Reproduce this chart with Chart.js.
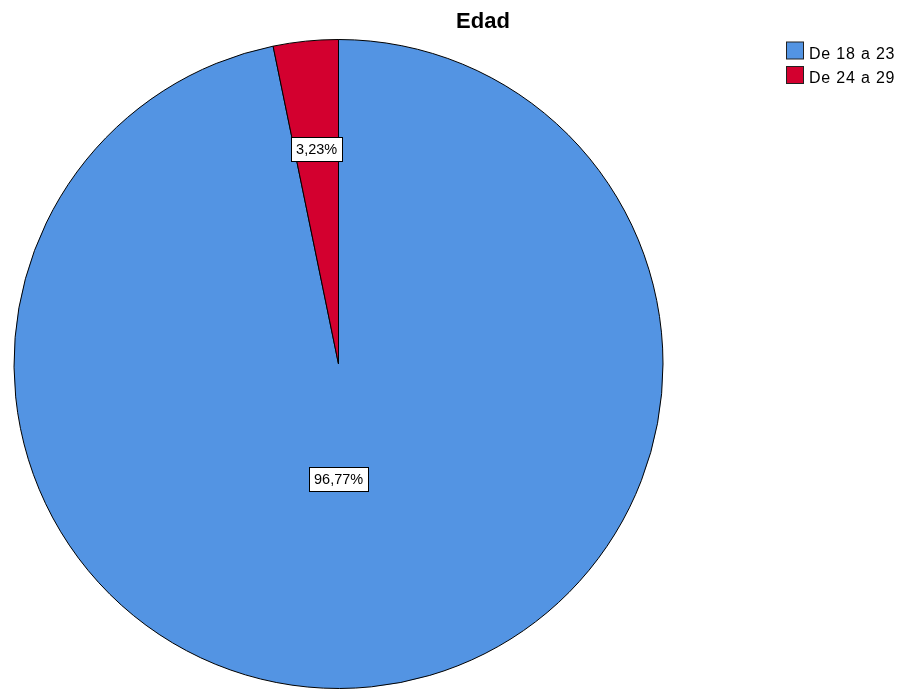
<!DOCTYPE html>
<html>
<head>
<meta charset="utf-8">
<script src="https://cdn.jsdelivr.net/npm/chart.js@4"></script>
<style>
  html, body { margin: 0; padding: 0; background: #fff; }
  #wrap { width: 905px; height: 691px; }
</style>
</head>
<body>
<div id="wrap"><canvas id="pie" width="905" height="691"></canvas></div>
<script>
// datos del gráfico
const categories = ['De 18 a 23', 'De 24 a 29'];
const percents = [96.77, 3.23];
const percentLabels = ['96,77%', '3,23%'];
const chartTitle = 'Edad';

const sliceColors = ['#5394E3', '#D3002F'];
// posición de la etiqueta: fracción del radio y fracción del ángulo del sector
const labelRadius = [0.355, 0.665];
const labelAngleFrac = [0.5165, 0.5];

// título
const titlePlugin = {
  id: 'titleSpss',
  afterDraw(chart) {
    const ctx = chart.ctx;
    ctx.save();
    ctx.font = 'bold 22px "Liberation Sans", Arial, sans-serif';
    ctx.fillStyle = '#000';
    ctx.textAlign = 'center';
    ctx.textBaseline = 'alphabetic';
    ctx.fillText(chartTitle, 483, 28);
    ctx.restore();
  }
};

// leyenda arriba a la derecha
const legendPlugin = {
  id: 'legendSpss',
  afterDraw(chart) {
    const ctx = chart.ctx;
    const ds = chart.data.datasets[0];
    ctx.save();
    ctx.font = '16px "Liberation Sans", Arial, sans-serif';
    ctx.letterSpacing = '0.8px';
    ctx.textBaseline = 'alphabetic';
    chart.data.labels.forEach((lab, i) => {
      const y = 41.5 + i * 24.5;
      ctx.fillStyle = ds.backgroundColor[i];
      ctx.fillRect(786.5, y + 0.5, 17, 17);
      ctx.strokeStyle = '#222';
      ctx.lineWidth = 1;
      ctx.strokeRect(786.5, y + 0.5, 17, 17);
      ctx.fillStyle = '#000';
      ctx.fillText(lab, 809, y + 17);
    });
    ctx.restore();
  }
};

// etiquetas de porcentaje en cajas blancas
const boxLabels = {
  id: 'boxLabels',
  afterDatasetsDraw(chart) {
    const ctx = chart.ctx;
    const meta = chart.getDatasetMeta(0);
    ctx.save();
    ctx.font = '14.5px "Liberation Sans", Arial, sans-serif';
    ctx.textAlign = 'center';
    ctx.textBaseline = 'middle';
    meta.data.forEach((arc, i) => {
      const p = arc.getProps(['x', 'y', 'startAngle', 'endAngle', 'outerRadius'], true);
      const ang = p.startAngle + (p.endAngle - p.startAngle) * labelAngleFrac[i];
      const r = p.outerRadius * labelRadius[i];
      const cx = p.x + Math.cos(ang) * r;
      const cy = p.y + Math.sin(ang) * r;
      const txt = percentLabels[i];
      const w = Math.round(ctx.measureText(txt).width + 10);
      const h = 24;
      const bx = Math.round(cx - w / 2) + 0.5;
      const by = Math.round(cy - h / 2) + 0.5;
      ctx.fillStyle = '#fff';
      ctx.fillRect(bx, by, w, h);
      ctx.strokeStyle = '#000';
      ctx.lineWidth = 1;
      ctx.strokeRect(bx, by, w, h);
      ctx.fillStyle = '#000';
      ctx.fillText(txt, cx, cy + 1);
    });
    ctx.restore();
  }
};

const ctx = document.getElementById('pie').getContext('2d');
new Chart(ctx, {
  type: 'pie',
  data: {
    labels: categories,
    datasets: [{
      data: percents,
      backgroundColor: sliceColors,
      borderColor: '#000',
      borderWidth: 1
    }]
  },
  options: {
    responsive: false,
    animation: false,
    devicePixelRatio: 1,
    layout: { padding: { left: 13, top: 39, right: 241, bottom: 2 } },
    plugins: {
      legend: { display: false },
      title: { display: false },
      tooltip: { enabled: false }
    }
  },
  plugins: [titlePlugin, legendPlugin, boxLabels]
});
</script>
</body>
</html>
